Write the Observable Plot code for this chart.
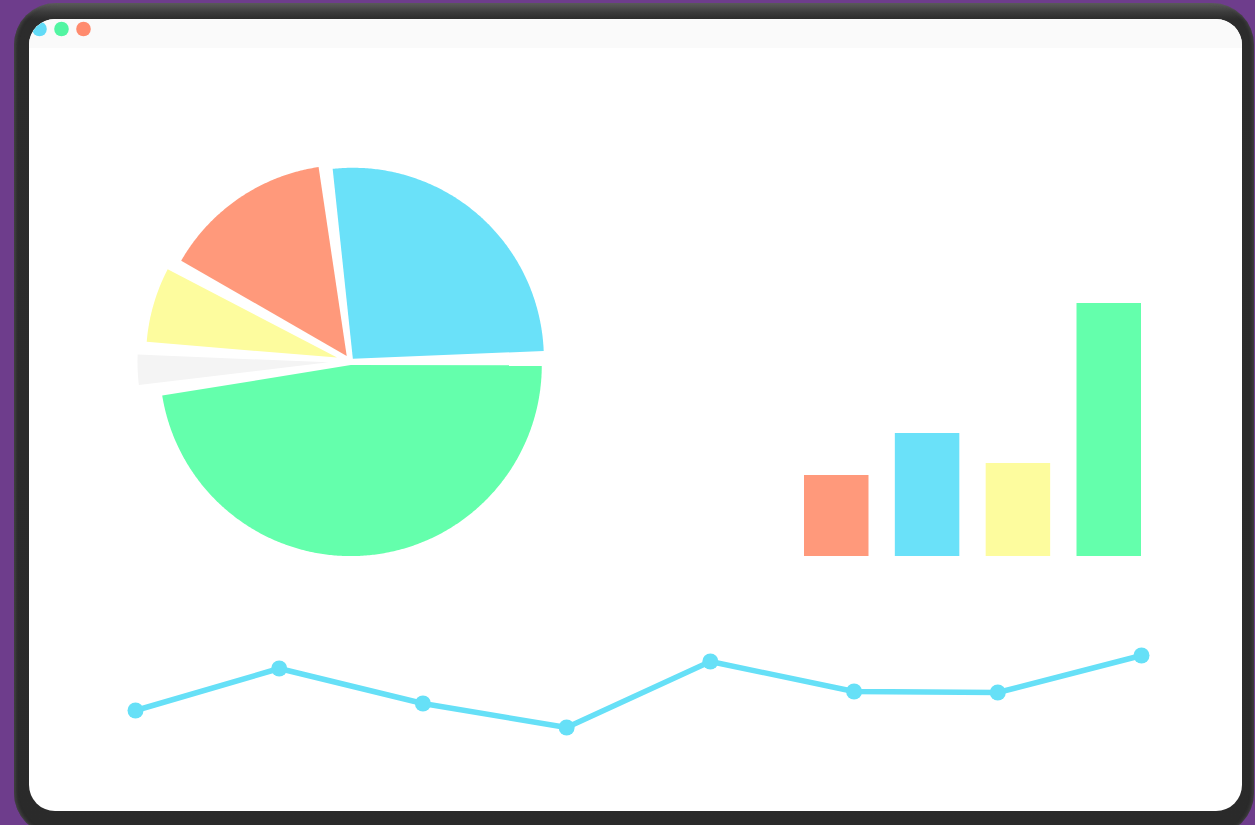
<!DOCTYPE html>
<html><head><meta charset="utf-8">
<script src="https://cdn.jsdelivr.net/npm/d3@7"></script>
<script src="https://cdn.jsdelivr.net/npm/@observablehq/plot@0.6"></script>
<style>
html,body{margin:0;padding:0;width:1255px;height:825px;overflow:hidden;background:#6e3d8c;font-family:"Noto Sans",sans-serif;}
#frame{position:absolute;left:14px;top:3px;width:1240px;height:832px;border-radius:42px;
  background:linear-gradient(180deg,#5c5c5c 0px,#3c3c3c 9px,#2c2c2c 16px,#2a2a2a 100%);
  box-shadow:inset 2px 0 3px rgba(90,90,90,.5), inset -2px 0 3px rgba(90,90,90,.4);}
#screen{position:absolute;left:29px;top:19px;width:1213px;height:792px;border-radius:26px;background:#ffffff;overflow:hidden;}
#titlebar{position:absolute;left:0;top:0;width:100%;height:29px;background:#fafafa;}
.chart{position:absolute;}
.chart svg{background:transparent;overflow:visible;}
</style></head>
<body>
<div id="frame"></div>
<div id="screen"><div id="titlebar"></div></div>
<script>
// ---------- data ----------
const windowDots = ["#62dbf7", "#52f5a2", "#ff8b6e"];

const sliceKeys = ["a", "b", "c", "d", "e"];
const sliceValues = [26.7, 15.0, 7.0, 3.2, 48.1];
const sliceColors = ["#6ae1f9", "#ff997b", "#fdfc9e", "#f4f4f4", "#64ffac"];

const barKeys = ["1", "2", "3", "4"];
const barValues = [81, 123, 93, 253];
const barColors = ["#ff997b", "#6ae1f9", "#fdfc9e", "#64ffac"];

const lineX = [1, 2, 3, 4, 5, 6, 7, 8];
const lineValues = [90, 132, 97, 73, 139, 109, 108, 145];

// ---------- pie styling ----------
const PIE = {start: 1.15, pad: 2.4, radius: 191, explode: [3.6, 6.7, 14, 22, 3.6], step: 0.5};

const screen = document.getElementById("screen");
function place(node, left, top) {
  const wrap = document.createElement("div");
  wrap.className = "chart";
  wrap.style.left = left + "px";
  wrap.style.top = top + "px";
  wrap.appendChild(node);
  screen.appendChild(wrap);
}

// window buttons
place(Plot.plot({
  width: 80, height: 17, marginLeft: 9, marginRight: 26, marginTop: 0, marginBottom: 0,
  x: {type: "point", domain: d3.range(windowDots.length), padding: 0, axis: null},
  color: {type: "identity"},
  marks: [Plot.dot(d3.range(windowDots.length), {x: d => d, r: 7.3, fill: d => windowDots[d], stroke: null})]
}), 0, 1);

// pie
const total = d3.sum(sliceValues);
const pieRows = [];
let acc = PIE.start;
sliceValues.forEach((v, i) => {
  const a0 = acc, a1 = acc + v / total * 360;
  acc = a1;
  const mid = (a0 + a1) / 2 * Math.PI / 180;
  const ox = PIE.explode[i] * Math.cos(mid), oy = PIE.explode[i] * Math.sin(mid);
  pieRows.push({k: sliceKeys[i], x: ox, y: oy});
  const s0 = a0 + PIE.pad / 2, s1 = a1 - PIE.pad / 2;
  const n = Math.ceil((s1 - s0) / PIE.step);
  for (let j = 0; j <= n; j++) {
    const t = (s0 + (s1 - s0) * j / n) * Math.PI / 180;
    pieRows.push({k: sliceKeys[i], x: ox + PIE.radius * Math.cos(t), y: oy + PIE.radius * Math.sin(t)});
  }
  pieRows.push({k: sliceKeys[i], x: ox, y: oy});
});
place(Plot.plot({
  width: 440, height: 440, margin: 0,
  x: {domain: [-220, 220], axis: null},
  y: {domain: [-220, 220], axis: null},
  color: {domain: sliceKeys, range: sliceColors},
  marks: [Plot.line(pieRows, {x: "x", y: "y", z: "k", fill: "k", stroke: null, curve: "linear"})]
}), 349.7 - 220 - 29, 361.4 - 220 - 19);

// bars
place(Plot.plot({
  width: 400, height: 320, marginLeft: 24, marginRight: 39, marginTop: 10, marginBottom: 10,
  x: {domain: barKeys, paddingInner: 0.29, paddingOuter: 0, round: false, axis: null},
  y: {domain: [0, 300], axis: null},
  color: {domain: barKeys, range: barColors},
  marks: [Plot.barY(barKeys.map((k, i) => ({k, v: barValues[i]})), {x: "k", y: "v", fill: "k", inset: 0})]
}), 780 - 29, 246 - 19);

// line
const lineRows = lineX.map((x, i) => ({x, v: lineValues[i]}));
place(Plot.plot({
  width: 1213, height: 200, marginLeft: 106, marginRight: 101, marginTop: 0, marginBottom: 0,
  x: {domain: [1, 8], axis: null},
  y: {domain: [0, 200], axis: null},
  marks: [
    Plot.line(lineRows, {x: "x", y: "v", stroke: "#66e0f7", strokeWidth: 5.5}),
    Plot.dot(lineRows, {x: "x", y: "v", r: 8, fill: "#66e0f7", stroke: null})
  ]
}), 0, 600 - 19);
</script>
</body></html>
